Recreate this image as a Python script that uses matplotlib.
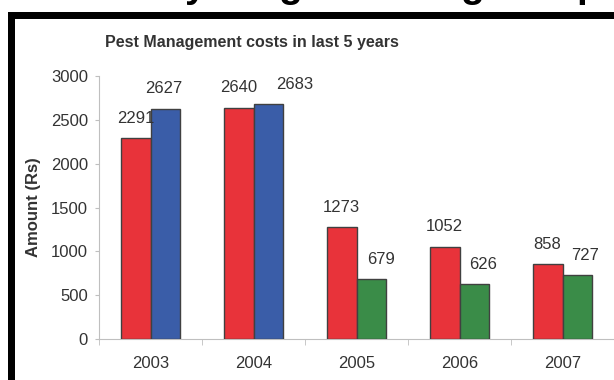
import numpy as np
import matplotlib.pyplot as plt
from matplotlib.patches import Rectangle

plt.rcParams['font.family'] = ['Liberation Sans', 'DejaVu Sans']

# Data
years = ['2003', '2004', '2005', '2006', '2007']
cost_a = [2291, 2640, 1273, 1052, 858]
cost_b = [2627, 2683, 679, 626, 727]

red = '#E8333A'
second_colors = ['#3A5DA8', '#3A5DA8', '#3A8C48', '#3A8C48', '#3A8C48']
edge = '#404040'
txt = '#333333'
fs = 12

# label offsets (px) for the second series labels
label_dx_b = [-2, 26, 10, 9, 8]

W, H = 614, 380
fig = plt.figure(figsize=(W / 100, H / 100), dpi=100)
ax = fig.add_axes([99 / W, 41 / H, (W - 99) / W, 263 / H])

x = np.arange(len(years))
bw = 0.29
bars_a = ax.bar(x - bw / 2, cost_a, bw, color=red, edgecolor=edge, linewidth=1.0, zorder=3)
bars_b = ax.bar(x + bw / 2, cost_b, bw, color=second_colors, edgecolor=edge, linewidth=1.0, zorder=3)

for b, v in zip(bars_a, cost_a):
    ax.annotate(str(v), (b.get_x() + b.get_width() / 2, v), xytext=(0, 11),
                textcoords='offset points', ha='center', va='baseline',
                fontsize=fs, color=txt)
for b, v, dx in zip(bars_b, cost_b, label_dx_b):
    ax.annotate(str(v), (b.get_x() + b.get_width() / 2, v), xytext=(dx * 0.72, 11),
                textcoords='offset points', ha='center', va='baseline',
                fontsize=fs, color=txt, annotation_clip=False)

ax.set_xlim(-0.5, len(years) - 0.5)
ax.set_ylim(0, 3000)
ax.set_yticks(range(0, 3001, 500))
ax.set_xticks(x)
ax.set_xticklabels(years)
ax.set_xticks(np.arange(-0.5, len(years)), minor=True)
ax.tick_params(axis='x', which='major', length=0, pad=12, labelsize=fs, labelcolor=txt)
ax.tick_params(axis='x', which='minor', length=4.5, color='#BFBFBF', direction='out')
ax.tick_params(axis='y', length=3, color='#BFBFBF', pad=5, labelsize=fs, labelcolor=txt)
for s in ['top', 'right']:
    ax.spines[s].set_visible(False)
for s in ['left', 'bottom']:
    ax.spines[s].set_color('#BFBFBF')
    ax.spines[s].set_linewidth(0.8)

ax.set_ylabel('Amount (Rs)', fontsize=fs, fontweight='bold', color=txt)
ax.yaxis.set_label_coords(-58 / (W - 99), 0.5)

fig.text(252 / W, 1 - 43 / H, 'Pest Management costs in last 5 years',
         ha='center', va='center', fontsize=11.5, fontweight='bold', color=txt)

# slide frame
fig.patches.append(Rectangle((8 / W, 0), 7 / W, (H - 12) / H, transform=fig.transFigure,
                             facecolor='black', edgecolor='none'))
fig.patches.append(Rectangle((8 / W, 1 - 19 / H), 1, 7 / H, transform=fig.transFigure,
                             facecolor='black', edgecolor='none'))

# cut-off slide heading (only descenders visible)
for ch, xc in [('y', 196), ('g', 290), ('g', 472), ('p', 588)]:
    fig.text(xc / W, 1 + 3 / H, ch, ha='center', va='baseline',
             fontsize=28, fontweight='bold', color='black')

fig.savefig('out.png', dpi=100)
